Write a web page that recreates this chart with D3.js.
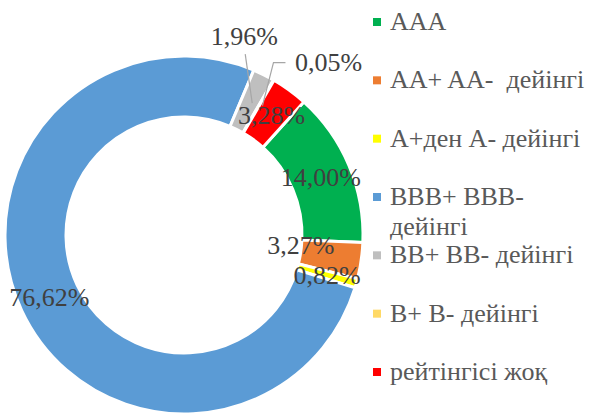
<!DOCTYPE html>
<html>
<head>
<meta charset="utf-8">
<script src="https://cdn.jsdelivr.net/npm/d3@7"></script>
<style>
  body { margin: 0; background: #fff; }
  svg { display: block; }
</style>
</head>
<body>
<div id="chart"></div>
<script>
// ratings and shares (%)
var categories = ["AAA", "AA+ AA-  дейінгі", "A+ден A- дейінгі", "BBB+ BBB- дейінгі", "BB+ BB- дейінгі", "B+ B- дейінгі", "рейтінгісі жоқ"];
var shares = [14.00, 3.27, 0.82, 76.62, 1.96, 0.05, 3.28];
var labels = ["14,00%", "3,27%", "0,82%", "76,62%", "1,96%", "0,05%", "3,28%"];
var colors = ["#00B050", "#ED7D31", "#FFFF00", "#5B9BD5", "#BFBFBF", "#FFD966", "#FF0000"];

var width = 590, height = 413;
var cx = 184, cy = 235, outerR = 179, innerR = 118;

var svg = d3.select("#chart").append("svg")
  .attr("width", width)
  .attr("height", height);

var g = svg.append("g").attr("transform", "translate(" + cx + "," + cy + ")");

// first slice angle 42deg like in the excel sheet
var start = 42 * Math.PI / 180;
var pie = d3.pie().sort(null).value(function (d) { return d; })
  .startAngle(start).endAngle(start + 2 * Math.PI);
var arcs = pie(shares);

var arc = d3.arc().innerRadius(innerR).outerRadius(outerR);
var labelArc = d3.arc().innerRadius((innerR + outerR) / 2).outerRadius((innerR + outerR) / 2);

g.selectAll("path.slice")
  .data(arcs)
  .enter()
  .append("path")
  .attr("class", "slice")
  .attr("d", arc)
  .style("fill", function (d, i) { return colors[i]; })
  .style("stroke", "#fff")
  .style("stroke-width", 3);

// labels that were moved away from the slice (index -> offset)
var moved = { 1: [-30, -11], 4: [-6, -66], 5: [70, -44] };

// leader lines
g.selectAll("path.leader")
  .data(arcs.filter(function (d, i) { return i === 4 || i === 5; }))
  .enter()
  .append("path")
  .attr("class", "leader")
  .attr("d", function (d) {
    var c = labelArc.centroid(d);
    var off = moved[d.index];
    var lx = c[0] + off[0], ly = c[1] + off[1];
    if (d.index === 4) {
      return "M" + (lx + 1) + "," + (ly + 18) + "L" + (c[0] + 2) + "," + (c[1] + 1);
    }
    return "M" + (lx - 43) + "," + ly + "L" + (lx - 55) + "," + ly + "L" + (c[0] + 4) + "," + (c[1] - 1);
  })
  .style("fill", "none")
  .style("stroke", "#A6A6A6")
  .style("stroke-width", 1.2);

g.selectAll("text.lbl")
  .data(arcs)
  .enter()
  .append("text")
  .attr("class", "lbl")
  .attr("transform", function (d) {
    var c = labelArc.centroid(d);
    var off = moved[d.index] || [0, 0];
    return "translate(" + (c[0] + off[0]) + "," + (c[1] + off[1]) + ")";
  })
  .attr("text-anchor", "middle")
  .attr("dy", "0.33em")
  .style("font-family", "'Liberation Serif', 'Times New Roman', serif")
  .style("font-size", "26px")
  .style("fill", "#404040")
  .text(function (d, i) { return labels[i]; });

// Legend
var legend = svg.append("g").attr("transform", "translate(373,0)");
var rowY = d3.scaleLinear().domain([0, categories.length - 1]).range([30, 380]);

var item = legend.selectAll("g.item")
  .data(categories)
  .enter()
  .append("g")
  .attr("class", "item")
  .attr("transform", function (d, i) { return "translate(0," + rowY(i) + ")"; });

item.append("rect")
  .attr("x", 0)
  .attr("y", -12)
  .attr("width", 8)
  .attr("height", 8)
  .style("fill", function (d, i) { return colors[i]; });

item.append("text")
  .attr("x", 17)
  .attr("y", 0)
  .style("font-family", "'Liberation Serif', 'Times New Roman', serif")
  .style("font-size", "26px")
  .style("fill", "#595959")
  .style("white-space", "pre")
  .each(function (d) {
    var t = d3.select(this);
    if (d === "BBB+ BBB- дейінгі") {
      t.append("tspan").attr("x", 17).text("BBB+ BBB-");
      t.append("tspan").attr("x", 17).attr("dy", 30).text("дейінгі");
    } else {
      t.text(d);
    }
  });
</script>
</body>
</html>
